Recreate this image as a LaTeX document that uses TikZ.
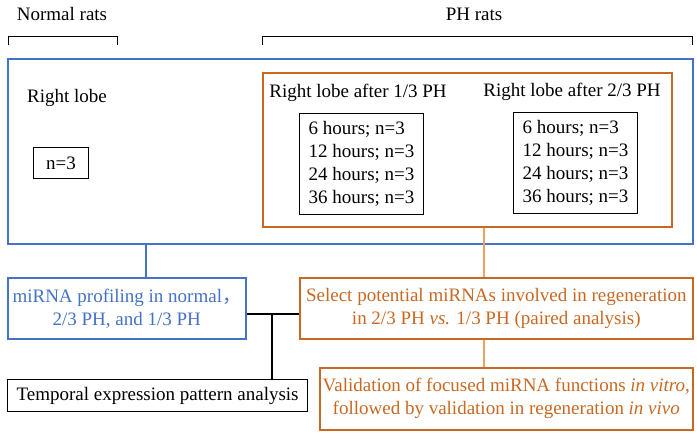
\documentclass[tikz,border=0pt]{standalone}
\usepackage{fontspec}
\setmainfont{Liberation Serif}
\newfontfamily\cjk{Noto Sans CJK SC}
\usetikzlibrary{positioning}

\definecolor{phblue}{RGB}{68,114,196}
\definecolor{phorange}{RGB}{200,105,35}
\definecolor{phlight}{RGB}{240,160,95}

\begin{document}
\begin{tikzpicture}[
  x=1pt, y=-1pt,
  every node/.style={font=\fontsize{19}{23}\selectfont, inner sep=0pt},
  bluebox/.style={draw=phblue, line width=1.6pt, anchor=north west},
  orangebox/.style={draw=phorange, line width=1.6pt, anchor=north west},
  blackbox/.style={draw=black, line width=1.2pt, anchor=north west},
  blueline/.style={draw=phblue, line width=1.6pt},
  orangeline/.style={draw=phlight, line width=1.6pt},
  blackline/.style={draw=black, line width=1.6pt}
]
\useasboundingbox (0,0) rectangle (697,433);

% Groups of rats
\node (normal) at (62,14) {Normal rats};
\node (phrats) at (474,14) {PH rats};
\draw[line width=1pt] (8,45) |- (117,37) -- (117,45);
\draw[line width=1pt] (262,45) |- (692,37) -- (692,45);

% Samples
\node[bluebox, minimum width=685pt, minimum height=185pt] (samples) at (7,58) {};
\node[orangebox, minimum width=409pt, minimum height=154pt] (phbox) at (262,72) {};

\node (rlnormal) at (67,98) {Right lobe};
\node[blackbox, minimum width=55pt, minimum height=31pt] (nnormal) at (33,147) {n=3};

\node (rlone) at (358,93) {Right lobe after 1/3 PH};
\node[blackbox, align=left, minimum width=124pt, minimum height=101pt] (tone) at (299,113)
  {6 hours; n=3\\12 hours; n=3\\24 hours; n=3\\36 hours; n=3};

\node (rltwo) at (572,92) {Right lobe after 2/3 PH};
\node[blackbox, align=left, minimum width=124pt, minimum height=101pt] (ttwo) at (513,112)
  {6 hours; n=3\\12 hours; n=3\\24 hours; n=3\\36 hours; n=3};

% Analyses
\node[bluebox, text=phblue, align=center, minimum width=238pt, minimum height=61pt] (profiling) at (7,277)
  {miRNA profiling in normal{\cjk ，}\\2/3 PH, and 1/3 PH};
\node[orangebox, text=phorange, align=center, minimum width=393pt, minimum height=61pt] (select) at (299,277)
  {Select potential miRNAs involved in regeneration\\in 2/3 PH \textit{vs.} 1/3 PH (paired analysis)};
\node[blackbox, minimum width=300pt, minimum height=32pt] (temporal) at (7,379)
  {Temporal expression pattern analysis};
\node[orangebox, text=phorange, align=center, minimum width=373pt, minimum height=62pt] (valid) at (319,367)
  {Validation of focused miRNA functions \textit{in vitro},\\followed by validation in regeneration \textit{in vivo}};

% Connectors
\draw[blueline] ([xshift=19pt]profiling.north) -- ([xshift=19pt]profiling.north |- samples.south);
\draw[orangeline] ([xshift=16.5pt]phbox.south) -- ([xshift=16.5pt]phbox.south |- select.north);
\draw[orangeline] ([xshift=-12.5pt]select.south) -- ([xshift=-12.5pt]select.south |- valid.north);
\draw[blackline] ([yshift=-5.5pt]profiling.east) -- ([yshift=-5.5pt]select.west);
\coordinate (junction) at (272,313);
\draw[blackline] (junction) -- (junction |- temporal.north);

\end{tikzpicture}
\end{document}
